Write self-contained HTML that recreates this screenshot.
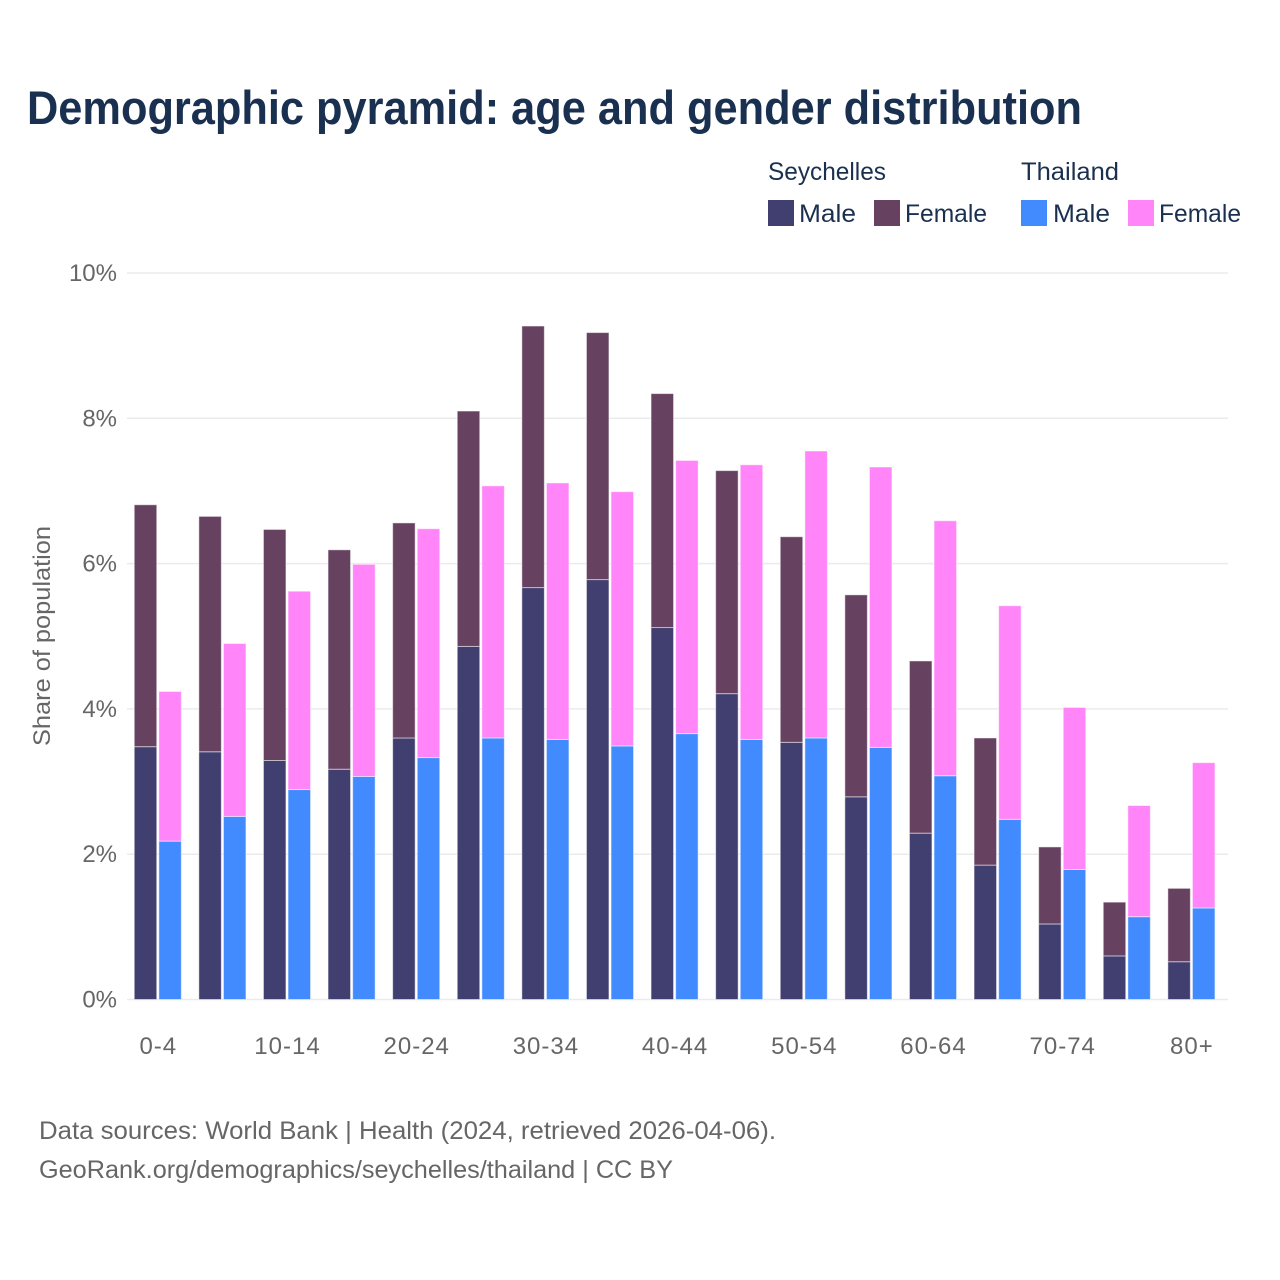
<!DOCTYPE html>
<html lang="en">
<head>
<meta charset="utf-8">
<title>Demographic pyramid: age and gender distribution</title>
<style>
html,body{margin:0;padding:0;background:#fff;}
svg{display:block;font-family:"Liberation Sans",sans-serif;}
</style>
</head>
<body>
<svg id="chart" width="1280" height="1280" viewBox="0 0 1280 1280" xmlns="http://www.w3.org/2000/svg">
  <rect x="0" y="0" width="1280" height="1280" fill="#ffffff"/>
  <text x="27" y="124" font-size="47" font-weight="700" fill="#1a3050" textLength="1055" lengthAdjust="spacingAndGlyphs">Demographic pyramid: age and gender distribution</text>

  <g fill="#1a3050" font-size="25">
    <text x="768" y="180" textLength="118" lengthAdjust="spacingAndGlyphs">Seychelles</text>
    <text x="1021" y="180" textLength="98" lengthAdjust="spacingAndGlyphs">Thailand</text>
    <rect x="768" y="200" width="26" height="26" fill="#413f6f"/>
    <text x="799" y="222" textLength="57" lengthAdjust="spacingAndGlyphs">Male</text>
    <rect x="874" y="200" width="26" height="26" fill="#674160"/>
    <text x="905" y="222" textLength="82" lengthAdjust="spacingAndGlyphs">Female</text>
    <rect x="1021" y="200" width="26" height="26" fill="#428bff"/>
    <text x="1053" y="222" textLength="57" lengthAdjust="spacingAndGlyphs">Male</text>
    <rect x="1128" y="200" width="26" height="26" fill="#ff85f9"/>
    <text x="1159" y="222" textLength="82" lengthAdjust="spacingAndGlyphs">Female</text>
  </g>

  <g id="grid"></g>
  <g id="bars"></g>
  <g id="yticks"></g>
  <g id="xticks"></g>

  <text transform="translate(50,636) rotate(-90)" text-anchor="middle" font-size="24" fill="#666666" textLength="220" lengthAdjust="spacingAndGlyphs">Share of population</text>

  <text x="39" y="1139" font-size="25" fill="#666666" textLength="737" lengthAdjust="spacingAndGlyphs">Data sources: World Bank | Health (2024, retrieved 2026-04-06).</text>
  <text x="39" y="1178" font-size="25" fill="#666666" textLength="634" lengthAdjust="spacingAndGlyphs">GeoRank.org/demographics/seychelles/thailand | CC BY</text>
</svg>
<script>
const ageGroups = ["0-4","5-9","10-14","15-19","20-24","25-29","30-34","35-39","40-44","45-49","50-54","55-59","60-64","65-69","70-74","75-79","80+"];
const xTickLabels = ["0-4","10-14","20-24","30-34","40-44","50-54","60-64","70-74","80+"];
const yTickValues = [0,2,4,6,8,10];
const seychellesMale = [3.48,3.41,3.29,3.17,3.60,4.86,5.67,5.78,5.12,4.21,3.54,2.79,2.29,1.85,1.04,0.60,0.52];
const seychellesFemale = [3.33,3.24,3.18,3.02,2.96,3.24,3.60,3.40,3.22,3.07,2.83,2.78,2.37,1.75,1.06,0.74,1.01];
const thailandMale = [2.18,2.52,2.89,3.07,3.33,3.60,3.58,3.49,3.66,3.58,3.60,3.47,3.08,2.48,1.79,1.14,1.26];
const thailandFemale = [2.06,2.38,2.73,2.92,3.15,3.47,3.53,3.50,3.76,3.78,3.95,3.86,3.51,2.94,2.23,1.53,2.00];

const NS = "http://www.w3.org/2000/svg";
const baselineY = 999.5, pxPerUnit = 72.65, firstX = 134.25, groupStep = 64.6, barW = 22.5, barOffset = 24.6;
const yScale = v => baselineY - v * pxPerUnit;
const xScale = i => firstX + i * groupStep;
const gridEl = document.getElementById("grid");
const barsEl = document.getElementById("bars");
const yTicksEl = document.getElementById("yticks");
const xTicksEl = document.getElementById("xticks");

yTickValues.forEach(v => {
  const line = document.createElementNS(NS, "line");
  
  
  line.setAttribute("x1", 127);
  line.setAttribute("x2", 1228);
  line.setAttribute("y1", yScale(v));
  line.setAttribute("y2", yScale(v));
  line.setAttribute("stroke", "#ebebeb");
  line.setAttribute("stroke-width", 1.5);
  gridEl.appendChild(line);
  const label = document.createElementNS(NS, "text");
  
  
  label.setAttribute("x", 117);
  label.setAttribute("y", yScale(v) + 8);
  label.setAttribute("text-anchor", "end");
  label.setAttribute("font-size", 24);
  label.setAttribute("fill", "#666666");
  label.textContent = v + "%";
  yTicksEl.appendChild(label);
});

function addBar(x, v0, v1, color, name) {
  const r = document.createElementNS(NS, "rect");
  
  
  r.setAttribute("x", x);
  r.setAttribute("y", yScale(v1));
  r.setAttribute("width", barW);
  r.setAttribute("height", yScale(v0) - yScale(v1));
  r.setAttribute("fill", color);
  r.setAttribute("stroke", "rgba(255,255,255,0.5)");
  r.setAttribute("stroke-width", 1);
  barsEl.appendChild(r);
}

ageGroups.forEach((age, i) => {
  const x1 = xScale(i), x2 = xScale(i) + barOffset;
  addBar(x1, 0, seychellesMale[i], "#413f6f", "bar-seychelles-male-" + age);
  addBar(x1, seychellesMale[i], seychellesMale[i] + seychellesFemale[i], "#674160", "bar-seychelles-female-" + age);
  addBar(x2, 0, thailandMale[i], "#428bff", "bar-thailand-male-" + age);
  addBar(x2, thailandMale[i], thailandMale[i] + thailandFemale[i], "#ff85f9", "bar-thailand-female-" + age);
});

xTickLabels.forEach(lbl => {
  const i = ageGroups.indexOf(lbl);
  const t = document.createElementNS(NS, "text");
  
  
  t.setAttribute("x", xScale(i) + (barOffset + barW) / 2 + 0.5);
  t.setAttribute("y", 1054);
  t.setAttribute("text-anchor", "middle");
  t.setAttribute("font-size", 24);
  t.setAttribute("letter-spacing", "1");
  t.setAttribute("fill", "#666666");
  t.textContent = lbl;
  xTicksEl.appendChild(t);
});
</script>
</body>
</html>
